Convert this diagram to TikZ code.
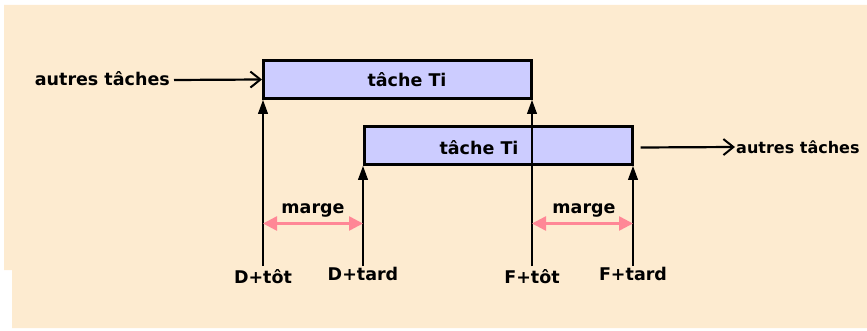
\documentclass[tikz,border=0pt]{standalone}
\usepackage{fontspec}
\setmainfont{DejaVu Sans}
\usetikzlibrary{arrows.meta,positioning}
\definecolor{creme}{RGB}{253,235,208}
\definecolor{lavande}{RGB}{204,204,255}
\definecolor{rose}{RGB}{255,135,150}
\begin{document}
\begin{tikzpicture}[x=1pt,y=1pt,yscale=-1,xscale=1,
  tache/.style={draw,line width=3pt,fill=lavande,minimum width=268pt,minimum height=38pt,inner sep=0pt},
  lbl/.style={font=\bfseries\fontsize{17.5}{20}\selectfont,inner sep=1pt},
  datefleche/.style={-{Triangle[length=14pt,width=10pt]},line width=1.1pt},
  margefleche/.style={{Triangle[length=14pt,width=14pt]}-{Triangle[length=14pt,width=14pt]},draw=rose,line width=2.5pt,rose},
  flux/.style={-{Straight Barb[length=10pt,width=16pt,line width=2pt]},line width=2.2pt}]
\useasboundingbox (0,0) rectangle (867,331);
%fond
\fill[creme] (4,5) -- (867,5) -- (867,328) -- (12,328) -- (12,270) -- (4,270) -- cycle;
%taches
\node[tache] (t1) at (397.5,79.5) {};
\node[tache] (t2) at (498,145.5) {};
\node[lbl] (t1txt) at (407,80) {tâche Ti};
\node[lbl] (t2txt) at (479,148) {tâche Ti};
%dates
\coordinate (dtot) at (263,266);
\coordinate (dtard) at (363,266);
\coordinate (ftot) at (532,266);
\coordinate (ftard) at (633,266);
\draw[datefleche] (dtot) -- (dtot |- t1.south);
\draw[datefleche] (dtard) -- (dtard |- t2.south);
\draw[datefleche] (ftot) -- (ftot |- t1.south);
\draw[datefleche] (ftard) -- (ftard |- t2.south);
\node[lbl,below=2pt of dtot] (dtotlbl) {D+tôt};
\node[lbl,below=0pt of dtard] (dtardlbl) {D+tard};
\node[lbl,below=2pt of ftot] (ftotlbl) {F+tôt};
\node[lbl,below=0pt of ftard] (ftardlbl) {F+tard};
%marges
\coordinate (m1a) at (263,223.5);
\coordinate (m1b) at (363,223.5);
\coordinate (m2a) at (532,223.5);
\coordinate (m2b) at (633,223.5);
\draw[margefleche] (m1a) -- (m1b);
\draw[margefleche] (m2a) -- (m2b);
\node[lbl] (marge1) at (313,210) {marge};
\node[lbl] (marge2) at (584,210) {marge};
%autres taches
\node[lbl,anchor=east] (avant) at (171,79) {autres tâches};
\node[lbl,anchor=west,font=\bfseries\fontsize{16}{19}\selectfont] (apres) at (735,147) {autres tâches};
\draw[flux] (avant.east) ++(3,1) -- (t1.west);
\draw[flux] (t2.east) ++(7,2) -- (apres.west);
\end{tikzpicture}
\end{document}
